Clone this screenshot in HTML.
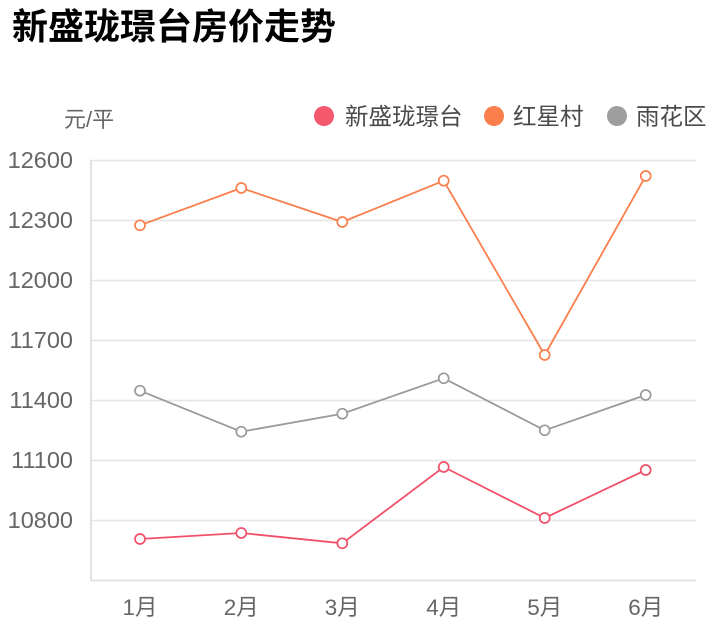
<!DOCTYPE html>
<html>
<head>
<meta charset="utf-8">
<style>
  html, body { margin:0; padding:0; background:#fff; }
  body { width:718px; height:640px; overflow:hidden; }
  svg { display:block; }
  text { font-family: "Liberation Sans", "Noto Sans CJK SC", sans-serif; }
</style>
</head>
<body>
<svg width="718" height="640" viewBox="0 0 718 640" xmlns="http://www.w3.org/2000/svg">
  <rect width="718" height="640" fill="#fff"/>
  <!-- title -->
  <text x="12" y="39" font-size="36" font-weight="bold" fill="#000">新盛珑璟台房价走势</text>

  <!-- unit label -->
  <text x="64" y="127" font-size="22" fill="#666">元/平</text>

  <!-- legend -->
  <circle cx="324" cy="116" r="10" fill="#f5576c"/>
  <text x="345" y="124.5" font-size="23.5" fill="#4a4a4a">新盛珑璟台</text>
  <circle cx="494" cy="116" r="10" fill="#fa7f4c"/>
  <text x="513" y="124.5" font-size="23.5" fill="#4a4a4a">红星村</text>
  <circle cx="617" cy="116" r="10" fill="#9e9e9e"/>
  <text x="636" y="124.5" font-size="23.5" fill="#4a4a4a">雨花区</text>

  <!-- grid -->
  <g stroke="#e6e6e6" stroke-width="1.6">
    <line x1="91" y1="160.5" x2="696" y2="160.5"/>
    <line x1="91" y1="220.5" x2="696" y2="220.5"/>
    <line x1="91" y1="280.5" x2="696" y2="280.5"/>
    <line x1="91" y1="340.5" x2="696" y2="340.5"/>
    <line x1="91" y1="400.5" x2="696" y2="400.5"/>
    <line x1="91" y1="460.5" x2="696" y2="460.5"/>
    <line x1="91" y1="520.5" x2="696" y2="520.5"/>
  </g>
  <line x1="91" y1="580.5" x2="696" y2="580.5" stroke="#e0e0e0" stroke-width="1.8"/>
  <line x1="91" y1="160" x2="91" y2="581" stroke="#e0e0e0" stroke-width="1.8"/>

  <!-- y labels -->
  <g font-size="23.5" fill="#666" text-anchor="end">
    <text x="73" y="168">12600</text>
    <text x="73" y="228">12300</text>
    <text x="73" y="288">12000</text>
    <text x="73" y="348">11700</text>
    <text x="73" y="408">11400</text>
    <text x="73" y="468">11100</text>
    <text x="73" y="528">10800</text>
  </g>

  <!-- x labels -->
  <g font-size="22.5" fill="#666" text-anchor="middle">
    <text x="140" y="615">1月</text>
    <text x="241.3" y="615">2月</text>
    <text x="342.3" y="615">3月</text>
    <text x="443.7" y="615">4月</text>
    <text x="544.7" y="615">5月</text>
    <text x="645.7" y="615">6月</text>
  </g>

  <!-- series: 红星村 -->
  <polyline fill="none" stroke="#fa7f4c" stroke-width="1.8"
    points="140,225.3 241.3,188 342.3,222 443.7,180.7 544.7,355 645.7,176"/>
  <g fill="#fff" stroke="#fa7f4c" stroke-width="1.7">
    <circle cx="140" cy="225.3" r="5"/>
    <circle cx="241.3" cy="188" r="5"/>
    <circle cx="342.3" cy="222" r="5"/>
    <circle cx="443.7" cy="180.7" r="5"/>
    <circle cx="544.7" cy="355" r="5"/>
    <circle cx="645.7" cy="176" r="5"/>
  </g>

  <!-- series: 雨花区 -->
  <polyline fill="none" stroke="#9a9a9a" stroke-width="1.8"
    points="140,390.7 241.3,431.7 342.3,413.7 443.7,378.3 544.7,430.3 645.7,395"/>
  <g fill="#fff" stroke="#9a9a9a" stroke-width="1.7">
    <circle cx="140" cy="390.7" r="5"/>
    <circle cx="241.3" cy="431.7" r="5"/>
    <circle cx="342.3" cy="413.7" r="5"/>
    <circle cx="443.7" cy="378.3" r="5"/>
    <circle cx="544.7" cy="430.3" r="5"/>
    <circle cx="645.7" cy="395" r="5"/>
  </g>

  <!-- series: 新盛珑璟台 -->
  <polyline fill="none" stroke="#f0506a" stroke-width="1.8"
    points="140,539 241.3,533 342.3,543.3 443.7,467 544.7,518 645.7,470"/>
  <g fill="#fff" stroke="#f0506a" stroke-width="1.7">
    <circle cx="140" cy="539" r="5"/>
    <circle cx="241.3" cy="533" r="5"/>
    <circle cx="342.3" cy="543.3" r="5"/>
    <circle cx="443.7" cy="467" r="5"/>
    <circle cx="544.7" cy="518" r="5"/>
    <circle cx="645.7" cy="470" r="5"/>
  </g>
</svg>
</body>
</html>
